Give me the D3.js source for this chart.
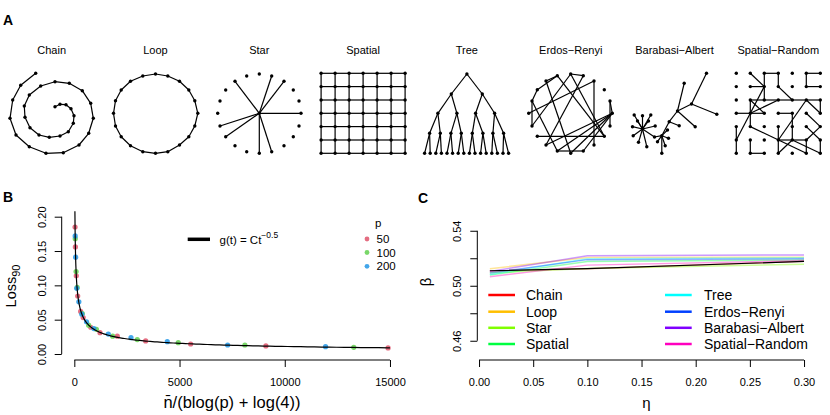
<!DOCTYPE html>
<html><head><meta charset="utf-8">
<script src="https://cdn.jsdelivr.net/npm/d3@7"></script>
<style>
body{margin:0;background:#fff}
svg{display:block;font-family:"Liberation Sans",Arial,Helvetica,sans-serif}
</style>
</head><body>
<svg id="c" width="830" height="415"></svg>
<script>
// ---------------- Panel A data (network layouts, layout units) ----------------
const networkNames = ["Chain","Loop","Star","Spatial","Tree","Erdos\u2212Renyi","Barabasi\u2212Albert","Spatial\u2212Random"];

const chainNodes = [[-16,-40],[-31,-28],[-39,-13.3],[-41.7,5],[-35.7,21.7],[-22.4,33.4],[-5.7,40],[11.6,39.4],[27.3,31.7],[37,20],[41.6,5],[39,-10],[30.6,-22.6],[17.6,-30],[3.3,-31.6],[-11,-27.3],[-22.4,-18.3],[-27.4,-7.3],[-26.7,4],[-21.7,14.4],[-12.7,21.7],[-2.4,24],[8.3,22.7],[16.6,18.4],[21.6,10],[22.3,2.4],[19.3,-4.6],[14.3,-8.6],[8.3,-9],[3.3,-6.6]];

const loopNodes = [[0,-39.3],[12.3,-37.3],[24,-32],[33.3,-23.3],[39.3,-12.6],[42.3,0],[39.3,12.7],[33.3,23.4],[24,31.7],[12.3,38.4],[0,40],[-12.7,38.4],[-25,32.4],[-34.3,23.4],[-40,12.7],[-42,0],[-40,-12.6],[-34.3,-23.3],[-25,-32],[-12.7,-37.3]];

const starOuterNodes = [[0,-39.3],[12.4,-37.3],[24.7,-32],[34,-23.3],[39.7,-12.3],[41.7,0],[39.7,12.7],[34,23.4],[24.7,32.4],[12.4,38.4],[0,40],[-12.6,38.4],[-24.3,32.4],[-33.6,23.4],[-39.3,12.7],[-41.6,0],[-39.3,-12.3],[-33.6,-23.3],[-24.3,-32],[-12.6,-37.3]];
const starHub = [0,0];
const starSpokes = [18,1,2,5,9,10,13,14];

const gridX = [-42,-28,-14,0,14,28,42];
const gridY = [-40,-26.7,-13.3,0,13.3,26.7,40];

const treeNodes = [[0,-39.3],
  [-15.6,-19.3],[15.4,-19.3],
  [-29,0],[-10,0],[8.7,0],[27.7,0],
  [-37.3,20],[-26.6,20],[-16,20],[-5.6,20],[5.4,20],[16,20],[26,20],[36.7,20],
  [-42.3,40],[-36.7,40],[-31.1,40],[-25.5,40],[-19.9,40],[-14.3,40],[-8.7,40],[-3.1,40],[2.5,40],[8.1,40],[13.7,40],[19.3,40],[24.9,40],[30.5,40],[36.1,40],[41.7,40]];
const treeParents = [-1,0,0,1,1,2,2,3,3,4,4,5,5,6,6,7,7,8,8,9,9,10,10,11,11,12,12,13,13,14,14];

const erNodes = [[0,-39.3],[-13.4,-37.6],[12.6,-37.6],[-24.7,-32.3],[23.3,-32.3],[-33.4,-23.6],[33.6,-23.6],[-38.7,-12.3],[39.3,-12.3],[-42,0],[41.6,0],[-38.7,12.7],[39.3,12.7],[-33.4,23],[33.6,23],[-24.7,31.7],[23.3,31.7],[-13.4,37.7],[0,40],[12.6,37.7]];
const erEdges = [[1,5],[3,1],[0,11],[4,16],[4,9],[1,14],[10,17],[10,18],[10,15],[10,19],[8,12],[8,10],[13,14],[17,19],[7,17],[3,18],[2,15],[0,14],[11,7],[5,7],[2,0]];

const baNodes = [[-32,15.7],[-40.3,1.7],[-32,2.4],[-23.7,1.7],[-42,13.4],[-19.3,12.7],[-41.3,22.4],[-36,29],[-27.7,33.4],[-37,7.7],[-26,7.7],[-20,23.7],[-12.7,22.4],[-7,16.7],[-6,25],[-9.3,32.4],[-12.7,40],[-17,28.4],[-5.3,8.4],[4.7,12.4],[3,-2.3],[9.7,-30],[20.7,13.4],[17,-9.3],[32,-40],[42.3,1]];
const baEdges = [[0,1],[0,2],[0,3],[0,4],[0,5],[0,6],[0,7],[0,8],[0,9],[0,10],[0,11],[11,12],[12,13],[12,14],[12,15],[12,16],[12,17],[12,18],[18,19],[18,20],[20,21],[20,22],[20,23],[23,24],[23,25]];

// spatial-random edges: [col1,row1,col2,row2]
const srEdges = [[1,0,2,1],[2,0,3,0],[3,0,3,1],[2,0,2,1],[2,1,2,2],[5,0,6,0],[5,0,5,1],[5,1,6,1],
  [3,1,4,2],[1,1,2,1],[2,1,1,3],
  [1,2,2,2],[2,2,3,2],[3,2,4,2],[4,2,5,2],[5,2,6,2],
  [1,2,1,3],[1,3,1,4],[1,3,3,2],[1,2,2,3],
  [0,3,1,3],[1,3,2,3],[3,3,4,3],
  [5,2,3,5],[5,2,6,3],[6,2,6,3],
  [4,3,4,4],[0,4,0,5],[0,5,1,3],[1,4,5,6],
  [3,4,3,5],[3,5,3,6],[4,4,4,5],[5,4,6,5],[6,4,5,5],[5,3,6,4],
  [3,5,4,5],[4,5,5,5],[4,5,6,6],[5,5,5,6],[1,6,2,6],[1,5,1,6],[4,5,3,6],[6,5,6,6],[0,5,0,6]];

// ---------------- Panel B data ----------------
const pLevels = ["50","100","200"];
const lossT50  = [35,50,93,160,300,420,780,1220,2042,3390,5527,9103,14910];
const lossY50  = [0.185,0.156,0.114,0.0845,0.062,0.053,0.039,0.031,0.026,0.019,0.0146,0.0117,0.0088];
const lossT100 = [43,84,135,380,680,1050,1823,2992,4938,8105,13280];
const lossY100 = [0.168,0.120,0.097,0.059,0.042,0.036,0.026,0.021,0.0165,0.0131,0.0097];
const lossT200 = [41,61,115,215,355,580,930,1615,2693,4416,7285,11938];
const lossY200 = [0.172,0.141,0.0957,0.076,0.058,0.047,0.037,0.029,0.0238,0.018,0.0131,0.0107];
const fitC = 1.1, fitExponent = -0.5;
const xTicksB = [0,5000,10000,15000];
const yTicksB = [0,0.05,0.10,0.15,0.20];

// ---------------- Panel C data ----------------
const etaValues = [0.01,0.10,0.30];
const betaNames = ["Chain","Loop","Star","Spatial","Tree","Erdos\u2212Renyi","Barabasi\u2212Albert","Spatial\u2212Random"];
const betaChain   = [0.5108,0.5123,0.5178];
const betaLoop    = [0.5124,0.5205,0.5208];
const betaStar    = [0.5095,0.5125,0.5157];
const betaSpatial = [0.5078,0.5176,0.5188];
const betaTree    = [0.5082,0.5196,0.5203];
const betaER      = [0.5092,0.5190,0.5196];
const betaBA      = [0.5104,0.5219,0.5224];
const betaSR      = [0.5066,0.5150,0.5183];
const betaOverall = [0.5109,0.5124,0.5177];
const xTicksC = [0,0.05,0.10,0.15,0.20,0.25,0.30];
const yTicksC = [0.46,0.48,0.50,0.52,0.54];
const yTickLabelsC = ["0.46","","0.50","","0.54"];

// ---------------- drawing ----------------
const svg = d3.select("#c");
const FONT = "Liberation Sans, Arial, Helvetica, sans-serif";

// Panel labels
svg.append("text").attr("x",3).attr("y",25).attr("font-size",14).attr("font-weight","bold").text("A");
svg.append("text").attr("x",3).attr("y",202).attr("font-size",14).attr("font-weight","bold").text("B");
svg.append("text").attr("x",418).attr("y",203).attr("font-size",14).attr("font-weight","bold").text("C");

// ---- Panel A ----
const panelX = d3.scalePoint().domain(networkNames).range([51.7,778.3]);
const netCY = 113.3;
networkNames.forEach(n=>{
  svg.append("text").attr("x",panelX(n)).attr("y",54).attr("text-anchor","middle").attr("font-size",11).text(n);
});

function drawNet(name, nodes, edges){
  const cx = panelX(name);
  const sx = d3.scaleLinear().domain([-50,50]).range([cx-50,cx+50]);
  const sy = d3.scaleLinear().domain([-50,50]).range([netCY-50,netCY+50]);
  const g = svg.append("g");
  g.selectAll("line").data(edges).join("line")
    .attr("x1",e=>sx(nodes[e[0]][0])).attr("y1",e=>sy(nodes[e[0]][1]))
    .attr("x2",e=>sx(nodes[e[1]][0])).attr("y2",e=>sy(nodes[e[1]][1]))
    .attr("stroke","#000").attr("stroke-width",1.2);
  g.selectAll("circle").data(nodes).join("circle")
    .attr("cx",d=>sx(d[0])).attr("cy",d=>sy(d[1])).attr("r",1.7).attr("fill","#000");
}
drawNet(networkNames[0], chainNodes, d3.range(chainNodes.length-1).map(i=>[i,i+1]));
drawNet(networkNames[1], loopNodes, d3.range(loopNodes.length).map(i=>[i,(i+1)%loopNodes.length]));
{
  const nodes = starOuterNodes.concat([starHub]);
  const hub = nodes.length-1;
  drawNet(networkNames[2], nodes, starSpokes.map(s=>[hub,s]));
}
function gridNodes(){ const a=[]; gridY.forEach(y=>gridX.forEach(x=>a.push([x,y]))); return a; }
const gi = (c,r)=>r*gridX.length+c;
{
  const edges=[];
  for(let r=0;r<gridY.length;r++)for(let c=0;c<gridX.length;c++){
    if(c<gridX.length-1) edges.push([gi(c,r),gi(c+1,r)]);
    if(r<gridY.length-1) edges.push([gi(c,r),gi(c,r+1)]);
  }
  drawNet(networkNames[3], gridNodes(), edges);
}
drawNet(networkNames[4], treeNodes, treeParents.map((p,i)=>[p,i]).filter(e=>e[0]>=0));
drawNet(networkNames[5], erNodes, erEdges);
drawNet(networkNames[6], baNodes, baEdges);
drawNet(networkNames[7], gridNodes(), srEdges.map(e=>[gi(e[0],e[1]),gi(e[2],e[3])]));

// ---- Panel B ----
const xB = d3.scaleLinear().domain([-600,15600]).range([61.7,402.6]);
const yB = d3.scaleLinear().domain([-0.008,0.208]).range([359.5,211.2]);
svg.append("clipPath").attr("id","clipB").append("rect")
  .attr("x",61.7).attr("y",211.2).attr("width",402.6-61.7).attr("height",359.5-211.2);

function styleAxisText(g){ g.attr("font-family",FONT).attr("font-size",11); g.selectAll("text").attr("fill","#000"); }

const gxB = svg.append("g").attr("transform","translate(0,360)")
  .call(d3.axisBottom(xB).tickValues(xTicksB).tickSize(7).tickFormat(d3.format("d")));
gxB.select(".domain").remove();
styleAxisText(gxB);
gxB.selectAll("text").attr("y",25.5).attr("dy",0);
svg.append("line").attr("x1",xB(xTicksB[0])).attr("x2",xB(xTicksB[xTicksB.length-1]))
  .attr("y1",360).attr("y2",360).attr("stroke","#000");

const gyB = svg.append("g").attr("transform","translate(61.7,0)")
  .call(d3.axisLeft(yB).tickValues(yTicksB).tickSize(7).tickFormat(d3.format(".2f")));
gyB.select(".domain").remove();
styleAxisText(gyB);
gyB.selectAll("text").attr("x",0).attr("dy",0).attr("text-anchor","middle")
  .attr("transform","translate(-16,0) rotate(-90)");
svg.append("line").attr("x1",61.7).attr("x2",61.7)
  .attr("y1",yB(yTicksB[0])).attr("y2",yB(yTicksB[yTicksB.length-1])).attr("stroke","#000");

// fitted curve g(t) = C t^-0.5
const tStart = Math.pow(0.21/fitC, 1/fitExponent);
const curveT = [];
for(let t=tStart; t<15000; t*=1.03) curveT.push(t);
curveT.push(15000);
const fitLine = d3.line().x(t=>xB(t)).y(t=>yB(fitC*Math.pow(t,fitExponent)));

const pColors = ["#DF536B","#61D04F","#2297E6"];
const lossSeries = [[lossT50,lossY50],[lossT100,lossY100],[lossT200,lossY200]];
lossSeries.forEach((s,k)=>{
  svg.append("g").selectAll("circle").data(s[0]).join("circle")
    .attr("cx",(t)=>xB(t)).attr("cy",(t,i)=>yB(s[1][i])).attr("r",2.6)
    .attr("fill",pColors[k]).attr("fill-opacity",0.85);
});
svg.append("path").attr("clip-path","url(#clipB)")
  .datum(curveT).attr("d", fitLine)
  .attr("fill","none").attr("stroke","#000").attr("stroke-width",1.2);

// legend (curve)
svg.append("line").attr("x1",187.7).attr("x2",210).attr("y1",239.3).attr("y2",239.3)
  .attr("stroke","#000").attr("stroke-width",3.5);
{
  const t = svg.append("text").attr("x",219.5).attr("y",243.5).attr("font-size",11.5);
  t.append("tspan").text("g(t) = Ct");
  t.append("tspan").attr("dy",-5.5).attr("font-size",8.5).text("\u22120.5");
}
// legend p
svg.append("text").attr("x",375).attr("y",226.5).attr("font-size",11.5).text("p");
pLevels.forEach((p,k)=>{
  const yy = [239,252.5,266.3][k];
  svg.append("circle").attr("cx",367).attr("cy",yy).attr("r",2.4).attr("fill",pColors[k]).attr("fill-opacity",0.85);
  svg.append("text").attr("x",376.5).attr("y",yy+4).attr("font-size",11.5).text(p);
});
// axis labels B
svg.append("text").attr("x",232).attr("y",408).attr("text-anchor","middle").attr("font-size",16.5)
  .text("n\u0304/(blog(p) + log(4))");
{
  const t = svg.append("text").attr("transform","translate(15.5,286) rotate(-90)").attr("text-anchor","middle").attr("font-size",14.5);
  t.append("tspan").text("Loss");
  t.append("tspan").attr("dy",4).attr("font-size",11).text("90");
}

// ---- Panel C ----
const xC = d3.scaleLinear().domain([-0.0016,0.3116]).range([477.3,816.6]);
const yC = d3.scaleLinear().domain([0.446,0.554]).range([360,211.5]);

const gxC = svg.append("g").attr("transform","translate(0,360)")
  .call(d3.axisBottom(xC).tickValues(xTicksC).tickSize(7).tickFormat(d3.format(".2f")));
gxC.select(".domain").remove();
styleAxisText(gxC);
gxC.selectAll("text").attr("y",25.5).attr("dy",0);
svg.append("line").attr("x1",xC(xTicksC[0])).attr("x2",xC(xTicksC[xTicksC.length-1]))
  .attr("y1",360).attr("y2",360).attr("stroke","#000");

const gyC = svg.append("g").attr("transform","translate(477.3,0)")
  .call(d3.axisLeft(yC).tickValues(yTicksC).tickSize(7).tickFormat((d,i)=>yTickLabelsC[i]));
gyC.select(".domain").remove();
styleAxisText(gyC);
gyC.selectAll("text").attr("x",0).attr("dy",0).attr("text-anchor","middle")
  .attr("transform","translate(-16,0) rotate(-90)");
svg.append("line").attr("x1",477.3).attr("x2",477.3)
  .attr("y1",yC(yTicksC[0])).attr("y2",yC(yTicksC[yTicksC.length-1])).attr("stroke","#000");

const betaColors = ["#FF0000","#FFBF00","#80FF00","#00FF40","#00FFFF","#0040FF","#8000FF","#FF00BF"];
const betaSeries = [betaChain,betaLoop,betaStar,betaSpatial,betaTree,betaER,betaBA,betaSR];
const lineC = d3.line().x((d,i)=>xC(etaValues[i])).y(d=>yC(d));
betaSeries.forEach((s,k)=>{
  svg.append("path").datum(s).attr("d",lineC).attr("fill","none")
    .attr("stroke",betaColors[k]).attr("stroke-opacity",0.4).attr("stroke-width",1.5);
});
svg.append("path").datum(betaOverall).attr("d",lineC).attr("fill","none").attr("stroke","#000").attr("stroke-width",1.2);

// legend C
betaNames.forEach((n,k)=>{
  const col = k<4?0:1, row = k%4;
  const lx = [488.3,665][col], tx=[526,704][col];
  const yy = [295,311.7,327.8,344][row];
  svg.append("line").attr("x1",lx).attr("x2",lx+26.7).attr("y1",yy).attr("y2",yy)
    .attr("stroke",betaColors[k]).attr("stroke-width",2.5);
  svg.append("text").attr("x",tx).attr("y",yy+5).attr("font-size",14).text(n);
});
svg.append("text").attr("x",646.5).attr("y",408).attr("text-anchor","middle").attr("font-size",15).text("\u03b7");
svg.append("text").attr("transform","translate(431,282) rotate(-90)").attr("text-anchor","middle").attr("font-size",15).text("\u03b2");
</script>
</body></html>
